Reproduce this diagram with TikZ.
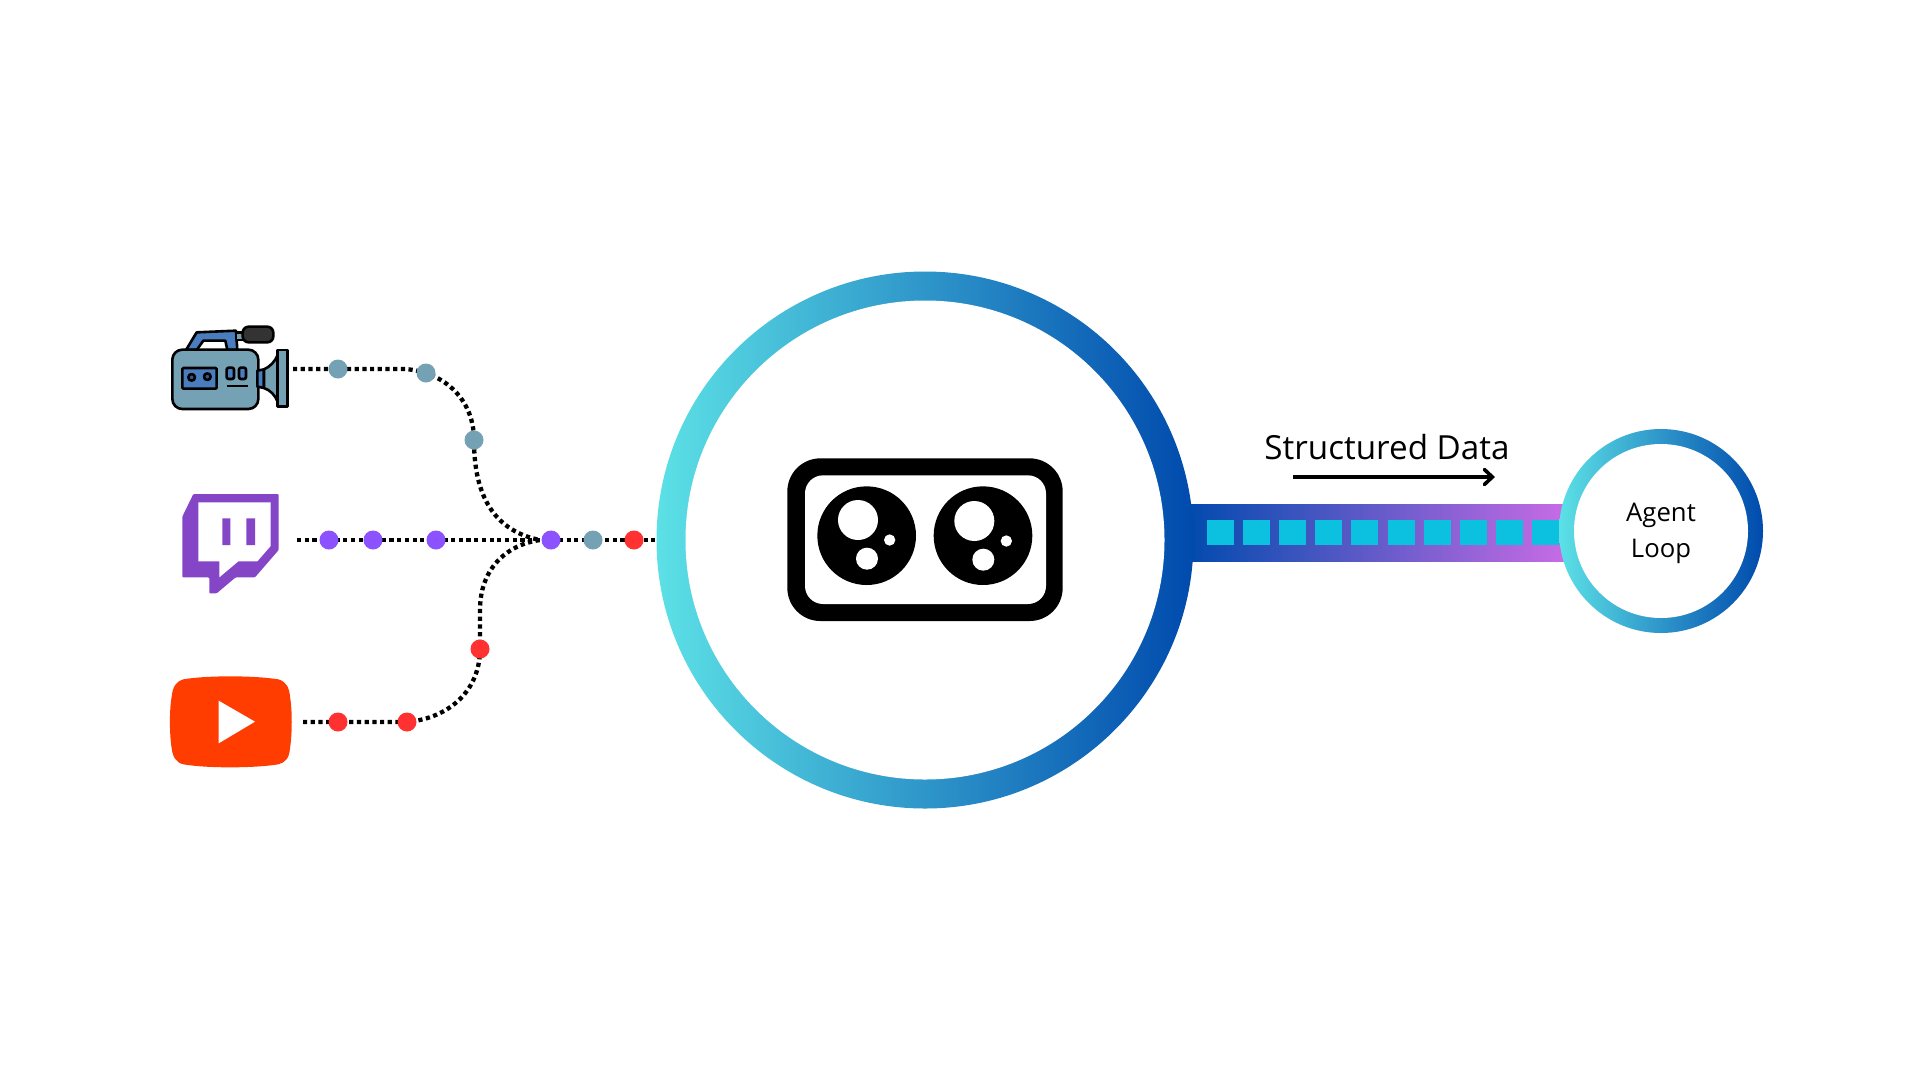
\documentclass[tikz,border=0pt]{standalone}
\usepackage{fontspec}
\setmainfont{Open Sans}
\usetikzlibrary{arrows.meta}
\pgfdeclarelayer{conn}
\pgfsetlayers{conn,main}
\definecolor{camcol}{HTML}{74A2B4}
\definecolor{camblue}{HTML}{4A7DBD}
\definecolor{purpdot}{HTML}{8C52FF}
\definecolor{reddot}{HTML}{FF3131}
\definecolor{twitchcol}{HTML}{8445C7}
\definecolor{ytcol}{HTML}{FF3D00}
\definecolor{ringa}{HTML}{5CE1E6}
\definecolor{ringb}{HTML}{004AAD}
\definecolor{barb}{HTML}{CB6CE6}
\definecolor{sqcol}{HTML}{0CC0DF}
\tikzset{
  dotline/.style={line width=4.3pt,dash pattern=on 4.2pt off 3.5pt,black},
  chip/.style={circle,inner sep=0pt,minimum size=19pt,fill=#1},
  ring/.style={circle,inner sep=0pt,minimum size=#1,left color=ringa,right color=ringb},
  hole/.style={circle,inner sep=0pt,minimum size=#1,fill=white},
  sq/.style={rectangle,inner sep=0pt,minimum width=27pt,minimum height=25.5pt,fill=sqcol},
  ink/.style={draw=black,line width=2.6pt,line join=round},
  crop/.style={x=0.33333pt,y=-0.33333pt}
}
\begin{document}
\begin{tikzpicture}[x=1pt,y=-1pt]
\begin{pgfonlayer}{conn}
\path[fill=white] (0,0) rectangle (1920,1080);
\end{pgfonlayer}
\useasboundingbox (0,0) rectangle (1920,1080);
\coordinate (c1) at (293,369);
\coordinate (t1) at (297,540);
\coordinate (y1) at (303,722);
\coordinate (merge) at (540,540);
\coordinate (arrA) at (1293,477);
\coordinate (arrB) at (1495,477);
\node[chip=camcol] (cd1) at (338,369) {};
\node[chip=camcol] (cd2) at (426,373) {};
\node[chip=camcol] (cd3) at (474,440) {};
\node[chip=purpdot] (td1) at (329,540) {};
\node[chip=purpdot] (td2) at (373,540) {};
\node[chip=purpdot] (td3) at (436,540) {};
\node[chip=purpdot] (td4) at (551,540) {};
\node[chip=camcol] (td5) at (593,540) {};
\node[chip=reddot] (td6) at (634,540) {};
\node[chip=reddot] (yd1) at (338,722) {};
\node[chip=reddot] (yd2) at (407,722) {};
\node[chip=reddot] (yd3) at (480,649) {};
% bar
\shade[left color=ringb,right color=barb] (1185,504) rectangle (1572,561);
% main circle
\node[ring=537pt] (main) at (925,540) {};
\node[hole=479pt] (maini) at (925,540) {};
% connectors
\begin{pgfonlayer}{conn}
\draw[dotline] (c1) -- (405,369) .. controls (445,372) and (474,400) .. (cd3.center) .. controls (474,490) and (490,530) .. (merge);
\draw[dotline] (t1) -- (main.center);
\draw[dotline] (y1) -- (yd2.center) .. controls (450,718) and (480,690) .. (yd3.center) -- (480,610) .. controls (480,570) and (505,545) .. (merge);
\end{pgfonlayer}
% squares
\foreach \i in {0,...,9}
  \node[sq] (s\i) at ({1220+36.2*\i},532.5) {};
% agent
\node[ring=204pt] (agent) at (1661,531) {};
\node[hole=174pt] (agenti) at (1661,531) {};
\node[align=center,font=\fontsize{25.7}{35.5}\selectfont,inner sep=0pt] (agentt) at (1661,533.5) {Agent\\Loop};
% label and arrow
\node[font=\fontsize{33.2}{38}\selectfont,inner sep=0pt] (lab) at (1387,447.5) {Structured Data};
\draw[line width=3.6pt,-{Straight Barb[length=8pt,width=15pt,line cap=round]}] (arrA) -- (arrB);
% robot
\begin{scope}[shift={(760,440)},crop]
\fill[black,rounded corners=33pt] (82,55) rectangle (908,543);
\fill[white,rounded corners=18pt] (135,106) rectangle (858,492);
\fill[black] (320,287) circle (148) (669,287) circle (148);
\fill[white] (294,240) circle (60) (321,356) circle (33) (389,300) circle (17);
\fill[white] (643,243) circle (60) (670,359) circle (33) (739,303) circle (17);
\end{scope}
% camera
\begin{scope}[shift={(150,300)},crop]
\filldraw[ink,fill=camblue] (108,150) -- (140,97) -- (258,92) -- (262,150) -- (232,150) -- (226,122) -- (160,122) -- (140,150) -- cycle;
\filldraw[ink,fill=camcol] (258,97) rectangle (282,120);
\filldraw[ink,fill=black!80,rounded corners=6pt] (278,80) rectangle (370,127);
\filldraw[ink,fill=camcol,rounded corners=10pt] (67,149) rectangle (325,327);
\filldraw[ink,fill=camblue,rounded corners=1pt] (97,204) rectangle (200,266);
\filldraw[ink,fill=camblue!70!black] (125,232) circle (10) (172,230) circle (10);
\filldraw[ink,fill=camblue,rounded corners=2pt] (230,203) rectangle (252,237);
\filldraw[ink,fill=camblue,rounded corners=2pt] (267,203) rectangle (288,237);
\draw[ink] (230,258) -- (295,258);
\filldraw[ink,fill=camblue] (322,212) -- (342,208) -- (342,264) -- (322,260) -- cycle;
\filldraw[ink,fill=camcol] (342,208) .. controls (360,200) and (375,185) .. (383,165) -- (383,305) .. controls (375,285) and (360,270) .. (342,264) -- cycle;
\filldraw[ink,fill=camcol] (383,150) rectangle (412,320);
\end{scope}
% twitch
\begin{scope}[shift={(150,480)},crop]
\fill[twitchcol,rounded corners=1pt] (130,42) -- (386,42) -- (386,210) -- (315,292) -- (257,292) -- (200,340) -- (178,340) -- (178,292) -- (97,292) -- (97,110) -- cycle;
\fill[white] (145,67) -- (362,67) -- (362,198) -- (322,244) -- (265,244) -- (208,292) -- (208,244) -- (145,244) -- cycle;
\fill[twitchcol] (217,115) rectangle (241,195) (289,115) rectangle (315,195);
\end{scope}
% youtube
\begin{scope}[shift={(150,480)},crop]
\fill[ytcol] (100,598) .. controls (170,586) and (310,586) .. (385,598) .. controls (410,605) and (418,625) .. (420,650) .. controls (427,690) and (427,760) .. (420,805) .. controls (418,835) and (405,848) .. (385,853) .. controls (310,865) and (170,865) .. (100,853) .. controls (78,848) and (68,830) .. (65,805) .. controls (58,760) and (58,690) .. (65,650) .. controls (68,620) and (78,605) .. (100,598) -- cycle;
\fill[white] (206,662) -- (206,790) -- (315,725) -- cycle;
\end{scope}
\end{tikzpicture}
\end{document}
